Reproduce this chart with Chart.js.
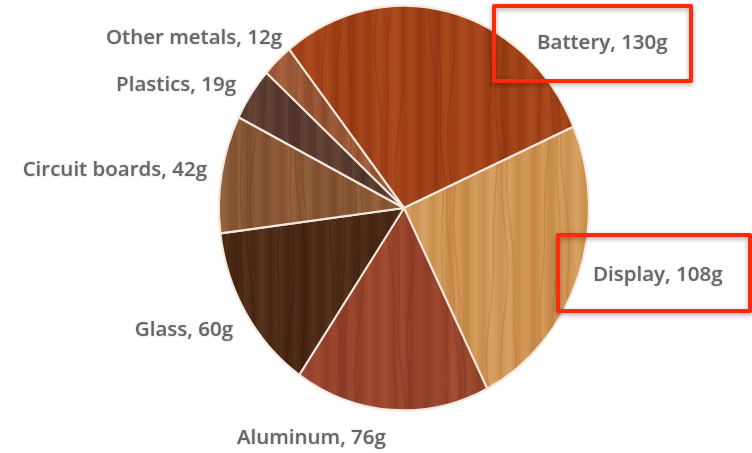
<!DOCTYPE html>
<html>
<head>
<meta charset="utf-8">
<script src="https://cdn.jsdelivr.net/npm/chart.js@4/dist/chart.umd.min.js"></script>
<style>
  html, body { margin: 0; padding: 0; background: #fff; }
  #wrap { width: 752px; height: 453px; position: relative; }
</style>
</head>
<body>
<div id="wrap"><canvas id="weightChart" width="752" height="453"></canvas></div>
<script>
const parts = ['Battery', 'Display', 'Aluminum', 'Glass', 'Circuit boards', 'Plastics', 'Other metals']
const grams = [130, 108, 76, 60, 42, 19, 12]
const highlighted = ['Battery', 'Display']

// base / dark / light tones of each wood veneer
const woods = [
  ['#a2431a', '#7f2e0e', '#b85a26'],
  ['#d09655', '#b07032', '#e2b27a'],
  ['#98452e', '#76301e', '#ac5a3c'],
  ['#4c2b16', '#35180a', '#664024'],
  ['#8a5836', '#683c20', '#a8744e'],
  ['#5b3d31', '#41271f', '#785444'],
  ['#9a5836', '#783c20', '#b6724e']
]

// where each label sits, relative to pie centre (px)
const labelSpots = {
  'Other metals': { dx: -122, dy: -170, align: 'right' },
  'Plastics': { dx: -168, dy: -123, align: 'right' },
  'Circuit boards': { dx: -197, dy: -38, align: 'right' },
  'Glass': { dx: -171, dy: 122, align: 'right' },
  'Aluminum': { dx: -167, dy: 230, align: 'left' },
  'Battery': { dx: 133, dy: -165, align: 'left', box: [-43, -37, 197, 75] },
  'Display': { dx: 189, dy: 67, align: 'left', box: [-35, -40, 192, 76] }
}

const Y_STRETCH = 1.094

function woodPattern(ctx, [base, dark, light], seed) {
  const c = document.createElement('canvas')
  c.width = 752
  c.height = 453
  const g = c.getContext('2d')
  g.fillStyle = base
  g.fillRect(0, 0, c.width, c.height)
  // fine vertical grain
  for (let x = 0; x < c.width; x++) {
    const v = Math.sin(x * 0.37 + seed) * 0.5 +
      Math.sin(x * 0.083 + seed * 2.1) * 0.35 +
      Math.sin(x * 1.91 + seed * 0.7) * 0.15
    g.globalAlpha = Math.min(0.5, Math.abs(v) * 0.45)
    g.fillStyle = v < 0 ? dark : light
    g.fillRect(x, 0, 1, c.height)
  }
  // a few wavy streaks
  g.globalAlpha = 0.35
  g.strokeStyle = dark
  g.lineWidth = 1.4
  for (let k = 0; k < 40; k++) {
    const x0 = (k * 53 + seed * 97) % c.width
    g.beginPath()
    for (let y = 0; y <= c.height; y += 6) {
      const x = x0 + Math.sin(y * 0.018 + k + seed) * 4 + Math.sin(y * 0.05 + k * 1.3) * 1.5
      if (y === 0) g.moveTo(x, y)
      else g.lineTo(x, y)
    }
    g.stroke()
  }
  g.globalAlpha = 1
  return ctx.createPattern(c, 'repeat')
}

const ovalPie = {
  id: 'ovalPie',
  beforeDatasetsDraw(chart) {
    const { ctx } = chart
    const arc = chart.getDatasetMeta(0).data[0]
    ctx.save()
    ctx.translate(arc.x, arc.y)
    ctx.scale(1, Y_STRETCH)
    ctx.translate(-arc.x, -arc.y)
  },
  afterDatasetsDraw(chart) {
    chart.ctx.restore()
  }
}

const partLabels = {
  id: 'partLabels',
  afterDraw(chart) {
    const { ctx } = chart
    const arc = chart.getDatasetMeta(0).data[0]
    const cx = arc.x
    const cy = arc.y
    ctx.save()
    ctx.font = '600 20.5px "Open Sans", sans-serif'
    ctx.textBaseline = 'middle'
    parts.forEach((name, i) => {
      const spot = labelSpots[name]
      const tx = cx + spot.dx
      const ty = cy + spot.dy
      if (highlighted.includes(name) && spot.box) {
        const [bx, by, bw, bh] = spot.box
        ctx.save()
        ctx.shadowColor = 'rgba(0,0,0,0.35)'
        ctx.shadowBlur = 5
        ctx.shadowOffsetY = 2
        ctx.strokeStyle = '#ff2a0a'
        ctx.lineWidth = 4
        ctx.lineJoin = 'round'
        ctx.strokeRect(tx + bx, ty + by, bw, bh)
        ctx.restore()
      }
      ctx.textAlign = spot.align
      ctx.fillStyle = '#676767'
      ctx.shadowColor = 'rgba(0,0,0,0.25)'
      ctx.shadowBlur = 2
      ctx.fillText(`${name}, ${grams[i]}g`, tx, ty)
    })
    ctx.restore()
  }
}

const ctx = document.getElementById('weightChart').getContext('2d')

new Chart(ctx, {
  type: 'pie',
  data: {
    labels: parts,
    datasets: [{
      data: grams,
      backgroundColor: woods.map((w, i) => woodPattern(ctx, w, i * 1.7 + 0.3)),
      borderColor: '#f3e8de',
      borderWidth: 2
    }]
  },
  options: {
    responsive: false,
    animation: false,
    rotation: -38.4,
    layout: { padding: { left: 218, right: 162, top: 22, bottom: 59 } },
    plugins: {
      legend: { display: false },
      tooltip: { enabled: false }
    }
  },
  plugins: [ovalPie, partLabels]
})
</script>
</body>
</html>
